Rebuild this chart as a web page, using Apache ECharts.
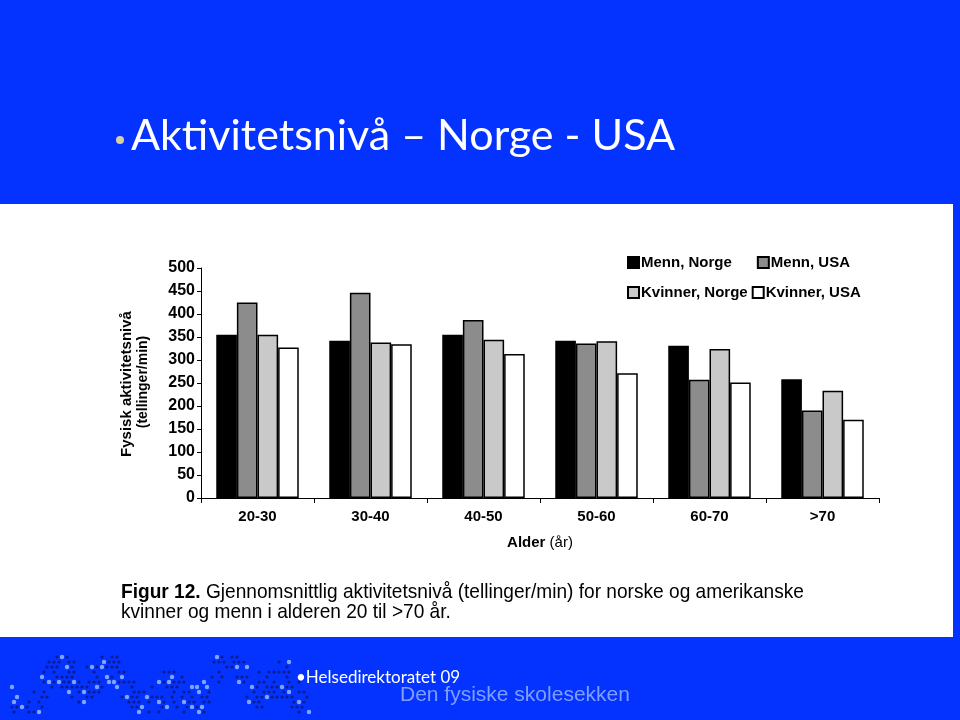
<!DOCTYPE html>
<html>
<head>
<meta charset="utf-8">
<script src="https://cdn.jsdelivr.net/npm/echarts@6/dist/echarts.min.js"></script>
<style>
html,body{margin:0;padding:0;background:#0433ff;}
#c{width:960px;height:720px;}
</style>
</head>
<body>
<div id="c"></div>
<script>
const categories = ['20-30', '30-40', '40-50', '50-60', '60-70', '>70'];
const seriesNames = ['Menn, Norge', 'Menn, USA', 'Kvinner, Norge', 'Kvinner, USA'];
const mennNorge = [355, 342, 355, 342, 331, 258];
const mennUSA = [425, 446, 387, 336, 257, 190];
const kvinnerNorge = [355, 338, 344, 341, 324, 233];
const kvinnerUSA = [327, 334, 313, 271, 251, 170];
const yTicks = [0, 50, 100, 150, 200, 250, 300, 350, 400, 450, 500];

const fills = ['#000000', '#8c8c8c', '#c9c9c9', '#ffffff'];
const values = [mennNorge, mennUSA, kvinnerNorge, kvinnerUSA];
const BLUE = '#0433ff';
const ARIAL = "'Liberation Sans', Arial, sans-serif";

// decorative dot pattern in footer (deterministic)
const dots = [];
for (let i = 0; i < 60; i++) {
  for (let j = 0; j < 12; j++) {
    const x = 12 + i * 5 + (j % 2) * 2;
    const y = 657 + j * 5;
    const band = Math.sin(i * 0.55) * 3 + Math.cos(i * 0.21) * 3 + 6;
    const v = Math.sin(i * 12.9898 + j * 78.233) * 43758.5453;
    const f = v - Math.floor(v);
    if (Math.abs(j - band) < 4 && f > 0.45) {
      const light = f > 0.88;
      dots.push({
        type: 'circle',
        shape: {cx: x, cy: y, r: light ? 2.2 : 1.6},
        style: {fill: light ? '#7fa6ff' : '#0b1c8c'},
        silent: true
      });
    }
  }
}

const chart = echarts.init(document.getElementById('c'));
chart.setOption({
  backgroundColor: BLUE,
  animation: false,
  graphic: [
    {type: 'rect', shape: {x: 0, y: 204, width: 953, height: 433}, style: {fill: '#ffffff'}, z: -10, silent: true},
    {type: 'circle', shape: {cx: 120, cy: 140, r: 4}, style: {fill: '#d8d0a0'}},
    {type: 'text', left: 131, top: 115, style: {text: 'Aktivitetsnivå – Norge - USA', fill: '#ffffff', font: "43px Lato, 'Open Sans', sans-serif"}},
    {type: 'text', x: 121, y: 582, scaleX: 0.91, style: {
      text: '{b|Figur 12.} Gjennomsnittlig aktivitetsnivå (tellinger/min) for norske og amerikanske\nkvinner og menn i alderen 20 til >70 år.',
      fill: '#000', font: '21px ' + ARIAL, lineHeight: 20,
      rich: {b: {fontWeight: 'bold', fontSize: 21, fontFamily: ARIAL, fill: '#000'}}
    }},
    {type: 'text', rotation: Math.PI / 2, x: 127, y: 384, style: {
      text: 'Fysisk aktivitetsnivå', fill: '#000', font: 'bold 15px ' + ARIAL, textAlign: 'center', textVerticalAlign: 'middle'
    }},
    {type: 'text', rotation: Math.PI / 2, x: 143, y: 382, style: {
      text: '(tellinger/min)', fill: '#000', font: 'bold 14px ' + ARIAL, textAlign: 'center', textVerticalAlign: 'middle'
    }},
    {type: 'group', children: dots},
    {type: 'text', left: 296, top: 669, style: {text: '•Helsedirektoratet 09', fill: '#ffffff', font: "17px Lato, 'Open Sans', sans-serif"}},
    {type: 'text', left: 400, top: 685, style: {text: 'Den fysiske skolesekken', fill: '#7f9fff', font: '21px ' + ARIAL}}
  ],
  legend: [
    {
      data: seriesNames.slice(0, 2), left: 627, top: 255, padding: 0, itemWidth: 11, itemHeight: 11, itemGap: 25,
      icon: 'rect', textStyle: {fontFamily: ARIAL, fontWeight: 'bold', fontSize: 15, color: '#000', padding: [0, 0, 0, -3]}
    },
    {
      data: seriesNames.slice(2, 4), left: 627, top: 285, padding: 0, itemWidth: 11, itemHeight: 11, itemGap: 4,
      icon: 'rect', textStyle: {fontFamily: ARIAL, fontWeight: 'bold', fontSize: 15, color: '#000', padding: [0, 0, 0, -3]}
    }
  ],
  grid: {left: 201, right: 81, top: 268, bottom: 222, containLabel: false},
  xAxis: {
    type: 'category', data: categories, boundaryGap: true,
    axisLine: {lineStyle: {color: '#000', width: 1}},
    axisTick: {show: true, length: 5, inside: false, lineStyle: {color: '#000'}},
    axisLabel: {color: '#000', fontFamily: ARIAL, fontWeight: 'bold', fontSize: 15, margin: 11},
    name: '{b|Alder} (år)', nameLocation: 'middle', nameGap: 37,
    nameTextStyle: {color: '#000', fontFamily: ARIAL, fontSize: 15, rich: {b: {fontWeight: 'bold', fontFamily: ARIAL, fontSize: 15, color: '#000'}}}
  },
  yAxis: {
    type: 'value', min: 0, max: 500, interval: 50,
    axisLine: {show: true, lineStyle: {color: '#000'}},
    axisTick: {show: true, length: 4, lineStyle: {color: '#000'}},
    splitLine: {show: false},
    axisLabel: {color: '#000', fontFamily: ARIAL, fontWeight: 'bold', fontSize: 16, margin: 6,
      formatter: v => yTicks.includes(v) ? String(v) : ''}
  },
  series: seriesNames.map((n, k) => ({
    name: n, type: 'bar', data: values[k],
    barGap: '0%', barCategoryGap: '27%',
    itemStyle: {color: fills[k], borderColor: '#000', borderWidth: 1.5}
  }))
});
</script>
</body>
</html>
